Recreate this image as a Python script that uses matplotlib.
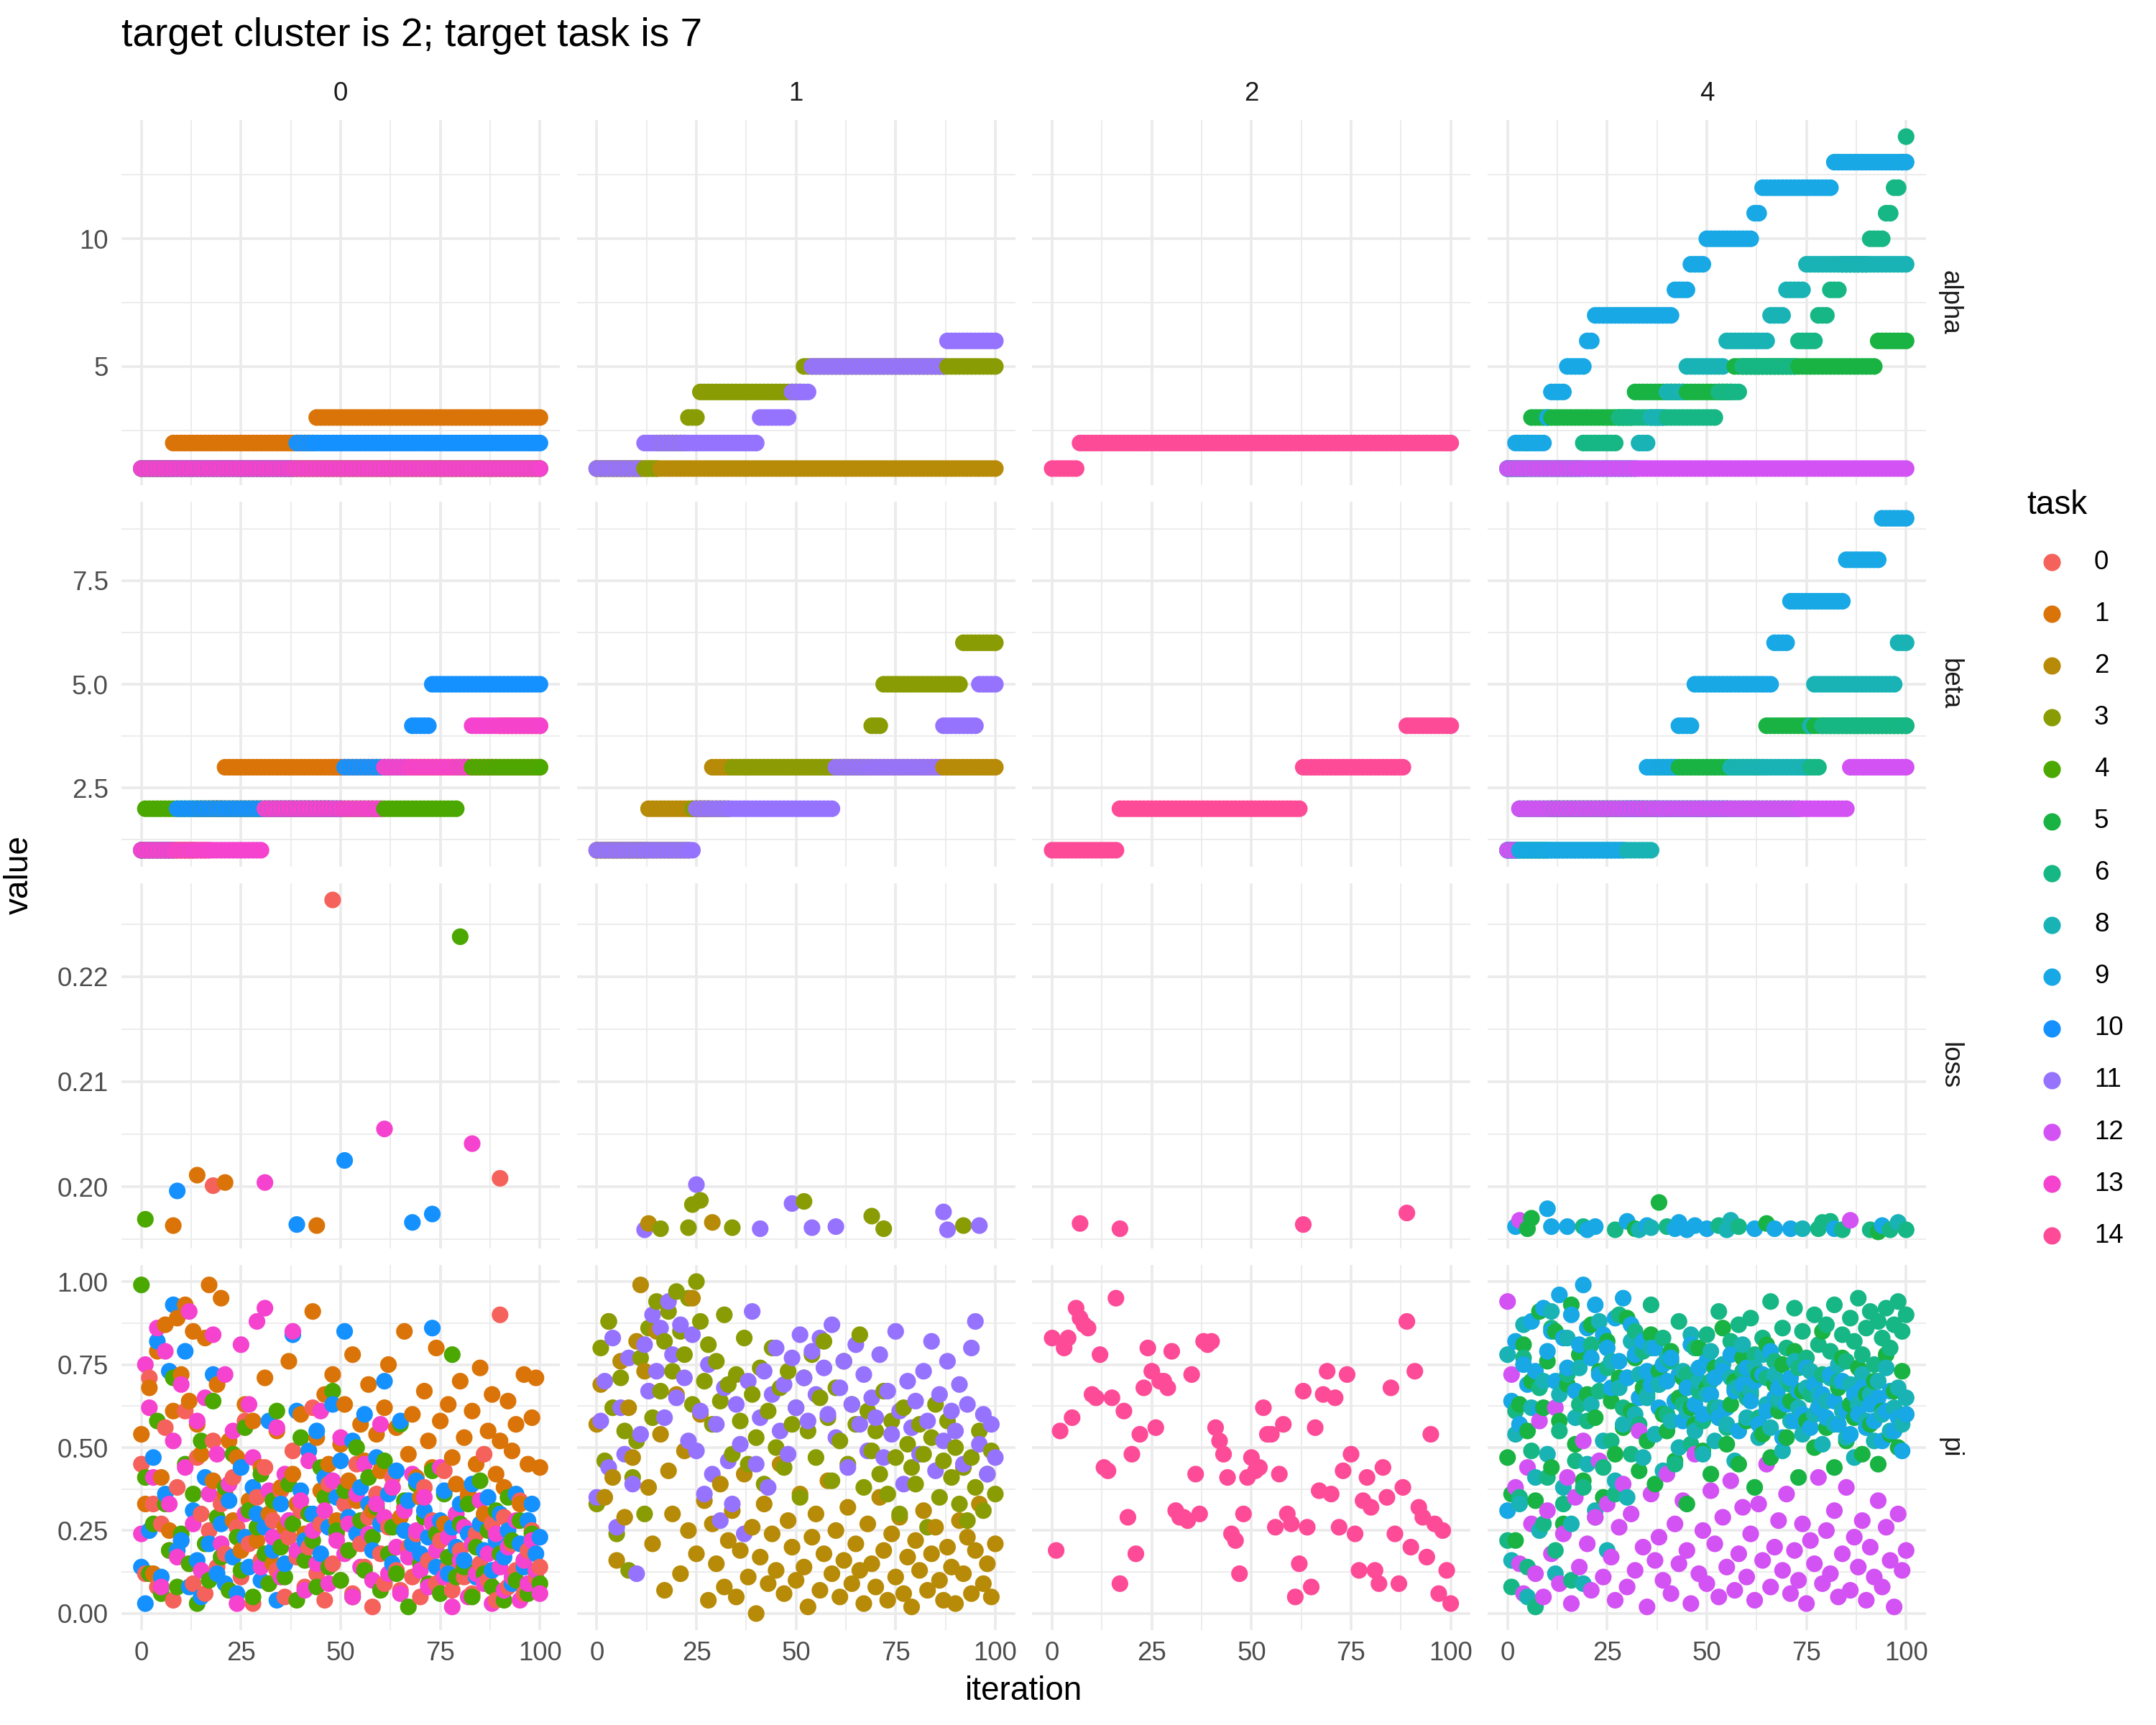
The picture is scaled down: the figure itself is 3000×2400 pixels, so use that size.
import numpy as np
import matplotlib.pyplot as plt
from matplotlib.lines import Line2D

plt.rcParams['font.family'] = ['Liberation Sans', 'DejaVu Sans']

task_levels = [0, 1, 2, 3, 4, 5, 6, 8, 9, 10, 11, 12, 13, 14]
task_colors = ['#F5625B', '#DB7408', '#B78B07', '#8A9C04', '#4AA801', '#19B343', '#17B785',
               '#19B3B6', '#17A8E5', '#1491FF', '#9673FE', '#D352F4', '#F542CF', '#FE4B97']
color_of = dict(zip(task_levels, task_colors))

clusters = [0, 1, 2, 4]
variables = ['alpha', 'beta', 'loss', 'pi']
n_iter = 101

# alpha / beta as (first iteration, value) change points for each task
alpha_c0 = {0: [(0, 1)], 1: [(0, 1), (8, 2), (44, 3)], 4: [(0, 1)],
            10: [(0, 1), (39, 2)], 13: [(0, 1)]}
beta_c0 = {0: [(0, 1), (18, 2), (48, 3), (90, 4)], 1: [(0, 1), (14, 2), (21, 3)],
           4: [(0, 1), (1, 2), (80, 3)], 10: [(0, 1), (9, 2), (51, 3), (68, 4), (73, 5)],
           13: [(0, 1), (31, 2), (61, 3), (83, 4)]}

alpha_c1 = {2: [(0, 1)], 3: [(0, 1), (16, 2), (23, 3), (26, 4), (52, 5)],
            11: [(0, 1), (12, 2), (41, 3), (49, 4), (54, 5), (88, 6)]}
beta_c1 = {2: [(0, 1), (13, 2), (29, 3)],
           3: [(0, 1), (24, 2), (34, 3), (69, 4), (72, 5), (92, 6)],
           11: [(0, 1), (25, 2), (60, 3), (87, 4), (96, 5)]}

alpha_c2 = {14: [(0, 1), (7, 2)]}
beta_c2 = {14: [(0, 1), (17, 2), (63, 3), (89, 4)]}

alpha_c4 = {5: [(0, 1), (5, 2), (6, 3), (32, 4), (57, 5), (93, 6)],
            6: [(0, 1), (19, 2), (28, 3), (53, 4), (59, 5), (73, 6), (78, 7), (81, 8),
                (84, 9), (91, 10), (95, 11), (97, 12), (99, 13), (100, 14)],
            8: [(0, 1), (33, 2), (36, 3), (40, 4), (45, 5), (55, 6), (66, 7), (70, 8), (75, 9)],
            9: [(0, 1), (2, 2), (10, 3), (11, 4), (15, 5), (20, 6), (22, 7), (42, 8), (46, 9),
                (50, 10), (62, 11), (64, 12), (82, 13)],
            12: [(0, 1)]}
beta_c4 = {5: [(0, 1), (11, 2), (38, 3), (65, 4)],
           6: [(0, 1), (3, 2), (74, 3), (79, 4)],
           8: [(0, 1), (37, 2), (56, 3), (76, 4), (77, 5), (98, 6)],
           9: [(0, 1), (30, 2), (35, 3), (43, 4), (47, 5), (67, 6), (71, 7), (85, 8), (94, 9)],
           12: [(0, 1), (3, 2), (86, 3)]}

# loss: (task, iteration, value)
loss_c0 = [(4, 1, 0.1969), (1, 8, 0.1963), (10, 9, 0.1996), (1, 14, 0.2011), (0, 18, 0.2001),
           (1, 21, 0.2004), (13, 31, 0.2004), (10, 39, 0.1964), (1, 44, 0.1963), (0, 48, 0.2273),
           (10, 51, 0.2025), (13, 61, 0.2055), (10, 68, 0.1966), (10, 73, 0.1974), (4, 80, 0.2238),
           (13, 83, 0.2041), (0, 90, 0.2008)]
loss_c1 = [(11, 12, 0.1959), (2, 13, 0.1965), (3, 16, 0.1960), (3, 23, 0.1961), (3, 24, 0.1983),
           (11, 25, 0.2002), (3, 26, 0.1987), (2, 29, 0.1966), (3, 34, 0.1961), (11, 41, 0.1960),
           (11, 49, 0.1984), (3, 52, 0.1986), (11, 54, 0.1961), (11, 60, 0.1962), (3, 69, 0.1972),
           (3, 72, 0.1960), (11, 87, 0.1976), (11, 88, 0.1959), (3, 92, 0.1963), (11, 96, 0.1963)]
loss_c2 = [(14, 7, 0.1965), (14, 17, 0.1960), (14, 63, 0.1964), (14, 89, 0.1975)]
loss_c4 = [(9, 2, 0.1962), (12, 3, 0.1968), (5, 5, 0.1960), (5, 6, 0.1970), (9, 10, 0.1979),
           (9, 11, 0.1962), (9, 15, 0.1962), (6, 19, 0.1962), (9, 20, 0.1959), (9, 22, 0.1962),
           (6, 27, 0.1959), (9, 30, 0.1967), (5, 32, 0.1960), (8, 33, 0.1959), (9, 35, 0.1963),
           (8, 36, 0.1961), (5, 38, 0.1985), (6, 40, 0.1962), (9, 42, 0.1960), (9, 43, 0.1966),
           (9, 45, 0.1959), (9, 47, 0.1963), (9, 50, 0.1960), (6, 53, 0.1963), (8, 55, 0.1959),
           (8, 56, 0.1968), (6, 58, 0.1962), (9, 62, 0.1960), (5, 65, 0.1965), (9, 67, 0.1960),
           (9, 71, 0.1960), (8, 74, 0.1960), (6, 78, 0.1960), (6, 79, 0.1966), (6, 81, 0.1967),
           (9, 82, 0.1960), (6, 84, 0.1959), (12, 86, 0.1968), (6, 91, 0.1959), (5, 93, 0.1957),
           (9, 94, 0.1963), (6, 96, 0.1959), (8, 98, 0.1966), (6, 100, 0.1959)]

# pi, in hundredths, iterations 0..100
pi_c0 = {
    0: """45 12 71 33 08 27 56 19 04 38  22 61 15 09 47 30 06 25 52 14
          33 18 07 41 26 11 58 21 03 35  16 44 09 28 13 37 05 23 49 17
          31 08 20 62 12 27 04 39 15 24  10 33 19 06 45 21 14 29 02 36
          18 09 26 41 13 07 32 20 11 24  05 38 16 28 09 22 43 14 07 30
          19 11 35 06 24 15 48 10 27 04  90 29 08 21 13 34 06 19 25 11  14""",
    1: """54 33 68 12 79 41 87 25 61 89  72 93 64 85 57 48 83 99 40 69
          95 36 52 28 47 19 63 34 58 22  44 71 30 15 55 38 26 76 42 33
          60 24 49 91 53 37 66 45 72 28  51 63 40 78 34 57 46 69 31 54
          43 62 75 38 56 29 85 48 60 41  35 67 52 44 80 58 27 63 47 39
          70 53 36 61 45 74 30 55 66 42  52 38 64 49 57 33 72 45 59 71  44""",
    4: """99 41 12 27 58 06 33 19 71 08  24 45 15 36 03 52 21 10 64 29
          17 38 07 48 23 13 56 31 05 26  42 18 09 34 61 20 11 39 27 04
          53 16 30 22 08 44 35 14 67 25  10 37 19 05 50 28 13 41 23 32
          07 46 18 26 12 57 34 02 21 39  15 29 09 43 24 06 36 17 78 11
          27 14 33 05 20 40 12 25 08 31  18 04 35 22 10 28 16 06 24 13  09""",
    10: """14 03 25 47 82 11 36 73 93 19  22 79 08 31 16 05 41 21 72 12
           27 09 34 17 06 44 23 14 38 30  10 26 58 19 04 33 15 28 84 61
           37 22 49 30 55 18 41 26 63 35  46 85 29 52 24 38 60 33 19 47
           27 70 36 15 43 58 25 34 21 40  18 31 23 86 14 28 37 12 26 20
           33 16 24 39 11 27 19 35 13 22  30 17 25 09 36 21 14 28 33 18  23""",
    13: """24 75 62 41 86 08 79 33 52 17  69 44 91 27 58 13 65 36 84 48
           21 72 39 55 03 81 30 63 47 88  14 92 37 23 56 11 42 28 85 19
           34 07 46 25 15 61 31 09 40 22  53 18 27 05 36 14 45 24 10 33
           57 29 12 38 20 06 31 17 42 25  13 35 08 27 19 44 11 23 02 30
           16 26 05 21 12 34 09 18 03 24  14 07 20 11 28 04 16 09 22 13  06""",
}
pi_c1 = {
    2: """57 69 35 88 41 16 76 29 62 47  82 99 73 38 21 85 54 07 43 30
          66 12 49 25 95 18 60 34 04 27  15 39 08 22 31 05 19 42 11 26
          00 17 33 09 24 13 45 06 28 20  10 36 14 02 23 30 07 18 40 12
          25 05 16 32 09 21 13 03 27 15  08 35 19 04 24 11 29 06 17 02
          22 13 31 07 18 26 10 04 20 14  03 28 12 23 06 19 33 09 15 05  21""",
    3: """33 80 46 88 62 24 71 55 13 41  52 77 30 86 59 94 67 82 91 73
          97 85 78 95 63 100 88 70 81 57  76 64 90 69 48 72 58 83 45 66
          53 74 39 61 80 50 68 44 73 57  62 35 71 55 78 47 65 82 59 40
          68 52 76 45 63 57 84 38 61 49  55 42 67 36 58 47 30 62 51 44
          39 57 48 26 53 63 35 46 58 41  50 33 44 28 47 38 55 31 42 49  36""",
    11: """35 58 70 44 83 26 62 48 77 39  12 54 81 67 90 73 86 59 94 78
           65 87 71 52 84 49 61 36 75 42  57 28 68 46 33 63 51 24 70 91
           45 59 73 38 66 80 55 69 48 77  62 84 71 58 79 66 83 74 60 87
           53 68 76 44 63 81 57 72 49 65  59 78 47 67 54 85 61 39 70 56
           64 48 73 58 82 43 66 52 76 61  55 69 45 63 80 88 51 60 42 57  47""",
}
pi_c2 = {
    14: """83 19 55 80 83 59 92 89 87 86  66 65 78 44 43 65 95 09 61 29
           48 18 54 68 80 73 56 70 70 68  79 31 29 29 28 72 42 30 82 81
           82 56 52 48 41 24 22 12 30 41  47 43 44 62 54 54 26 42 57 30
           27 05 15 67 26 08 56 37 66 73  36 65 26 43 72 48 24 13 34 41
           32 13 09 44 35 68 24 09 38 88  20 73 32 29 17 54 27 06 25 13  03""",
}
pi_c4 = {
    5: """47 36 22 63 81 55 70 34 91 62  76 44 85 58 27 69 93 51 78 40
          66 87 59 73 35 82 64 48 71 56  89 61 77 43 68 52 84 39 73 60
          55 79 46 65 71 33 62 57 80 49  68 42 74 59 86 51 63 70 45 77
          58 66 38 72 54 81 47 69 61 75  53 64 79 41 67 58 73 50 62 85
          56 71 44 68 77 52 63 59 74 48  66 57 70 45 61 78 54 67 50 73  60""",
    6: """22 08 61 35 77 14 49 02 68 27  41 86 19 55 33 72 10 46 63 38
          58 81 29 67 44 74 52 36 90 62  71 48 85 57 79 66 93 54 69 83
          60 76 45 88 63 72 51 80 67 58  84 70 62 91 75 56 82 68 87 73
          65 89 78 59 83 71 94 76 64 86  80 69 92 74 85 77 66 90 81 72
          87 79 93 70 84 76 89 82 95 78  86 91 75 88 83 92 80 87 94 85  90""",
    8: """78 16 54 33 87 05 62 41 25 70  48 91 12 66 38 83 27 59 74 09
          45 63 31 88 52 19 76 40 68 57  35 82 60 72 47 65 80 54 69 43
          77 58 64 50 73 61 84 55 70 48  66 79 52 62 75 57 71 46 68 81
          59 67 74 53 78 63 56 72 65 49  70 58 76 62 54 68 73 60 66 51
          64 71 57 75 61 53 69 47 63 72  58 66 52 70 60 74 55 62 68 57  65""",
    9: """31 64 82 57 75 69 88 73 61 92  79 85 70 96 83 74 90 67 81 99
          86 77 93 72 84 80 68 89 76 95  71 87 78 65 82 73 69 80 62 75
          70 77 64 72 58 68 81 63 74 60  76 66 71 59 73 62 78 67 55 69
          74 64 70 57 72 61 79 65 68 53  63 71 58 67 60 74 56 69 62 66
          59 72 64 57 70 61 54 66 60 68  56 63 58 65 52 61 67 55 59 49  60""",
    12: """94 72 38 15 06 44 27 12 58 05  31 18 62 09 24 41 03 35 14 52
           21 07 29 46 11 33 17 04 26 39  08 30 13 55 20 02 36 16 23 10
           42 06 27 15 34 19 03 48 12 25  09 37 21 05 29 14 40 07 18 32
           11 24 04 33 16 45 08 20 28 13  36 06 19 10 27 03 22 15 41 09
           25 12 31 05 18 38 07 23 14 28  04 20 11 34 08 26 16 02 30 13  19""",
}

alpha_by_cluster = {0: alpha_c0, 1: alpha_c1, 2: alpha_c2, 4: alpha_c4}
beta_by_cluster = {0: beta_c0, 1: beta_c1, 2: beta_c2, 4: beta_c4}
loss_by_cluster = {0: loss_c0, 1: loss_c1, 2: loss_c2, 4: loss_c4}
pi_by_cluster = {0: pi_c0, 1: pi_c1, 2: pi_c2, 4: pi_c4}


def expand(steps):
    vals = np.zeros(n_iter)
    for start, v in steps:
        vals[start:] = v
    return vals


def long_rows(cl, var):
    it, tk, val = [], [], []
    if var == 'loss':
        for t, i, v in loss_by_cluster[cl]:
            it.append(i); tk.append(t); val.append(v)
    else:
        for t in alpha_by_cluster[cl]:
            if var == 'alpha':
                vals = expand(alpha_by_cluster[cl][t])
            elif var == 'beta':
                vals = expand(beta_by_cluster[cl][t])
            else:
                vals = np.array(pi_by_cluster[cl][t].split(), float) / 100
            for i, v in enumerate(vals):
                it.append(i); tk.append(t); val.append(v)
    it, tk, val = np.array(it), np.array(tk), np.array(val)
    order = np.lexsort((tk, it))  # rows ordered by iteration, then task
    return it[order], tk[order], val[order]


panels = {(var, cl): long_rows(cl, var) for var in variables for cl in clusters}

# shared y range per row, ggplot-style 5% expansion
ylims = {}
for var in variables:
    allv = np.concatenate([panels[(var, cl)][2] for cl in clusters])
    lo, hi = allv.min(), allv.max()
    pad = 0.05 * (hi - lo)
    ylims[var] = (lo - pad, hi + pad)

y_major = {'alpha': [5, 10], 'beta': [2.5, 5.0, 7.5], 'loss': [0.20, 0.21, 0.22],
           'pi': [0, 0.25, 0.5, 0.75, 1.0]}
y_labels = {'alpha': ['5', '10'], 'beta': ['2.5', '5.0', '7.5'],
            'loss': ['0.20', '0.21', '0.22'], 'pi': ['0.00', '0.25', '0.50', '0.75', '1.00']}
y_minor = {'alpha': [2.5, 7.5, 12.5], 'beta': [1.25, 3.75, 6.25, 8.75],
           'loss': [0.195, 0.205, 0.215, 0.225], 'pi': [0.125, 0.375, 0.625, 0.875]}

W, H = 3000, 2400
fig = plt.figure(figsize=(10, 8), dpi=300)
fig.patch.set_facecolor('white')

pl, pw, pstep = 169, 610, 633.67
pt, ph, rstep = 167, 508, 531

for i, var in enumerate(variables):
    for j, cl in enumerate(clusters):
        left = pl + j * pstep
        top = pt + i * rstep
        ax = fig.add_axes([left / W, 1 - (top + ph) / H, pw / W, ph / H])
        it, tk, val = panels[(var, cl)]
        ax.scatter(it, val, s=31, c=[color_of[t] for t in tk], linewidths=0, zorder=3)
        ax.set_xlim(-5, 105)
        ax.set_ylim(*ylims[var])
        ax.set_xticks([0, 25, 50, 75, 100])
        ax.set_xticks([12.5, 37.5, 62.5, 87.5], minor=True)
        ax.set_yticks(y_major[var])
        ax.set_yticklabels(y_labels[var])
        ax.set_yticks(y_minor[var], minor=True)
        ax.grid(which='major', color='#EBEBEB', linewidth=0.9)
        ax.grid(which='minor', color='#EBEBEB', linewidth=0.45)
        ax.set_axisbelow(True)
        for s in ax.spines.values():
            s.set_visible(False)
        ax.tick_params(which='both', length=0, labelsize=8.8, labelcolor='#4D4D4D')
        ax.tick_params(axis='y', pad=4.4)
        ax.tick_params(axis='x', pad=3.5)
        ax.tick_params(labelleft=(j == 0), labelbottom=(i == len(variables) - 1))
        if i == 0:
            fig.text((left + pw / 2) / W, 1 - (top - 37) / H, str(cl), ha='center',
                     va='center', fontsize=8.8, color='#1A1A1A')
        if j == len(clusters) - 1:
            fig.text((left + pw + 33) / W, 1 - (top + ph / 2) / H, var, ha='center',
                     va='center', rotation=-90, fontsize=8.8, color='#1A1A1A')

fig.text(169 / W, 1 - 50 / H, 'target cluster is 2; target task is 7', ha='left',
         va='center', fontsize=13.2, color='black')
fig.text(27 / W, 1 - 1217 / H, 'value', ha='center', va='center', rotation=90,
         fontsize=11, color='black')
fig.text((pl + (3 * pstep + pw) / 2) / W, 1 - 2353 / H, 'iteration', ha='center',
         va='center', fontsize=11, color='black')

# legend
fig.text(2820 / W, 1 - 703 / H, 'task', ha='left', va='center', fontsize=11, color='black')
for k, t in enumerate(task_levels):
    yk = 782 + k * 72.1
    fig.add_artist(Line2D([2855 / W], [1 - yk / H], marker='o', markersize=5.8,
                          markeredgewidth=0, color=color_of[t], linestyle='None',
                          transform=fig.transFigure))
    fig.text(2914 / W, 1 - yk / H, str(t), ha='left', va='center', fontsize=8.8,
             color='black')

fig.savefig('out.png', dpi=300, facecolor='white')
